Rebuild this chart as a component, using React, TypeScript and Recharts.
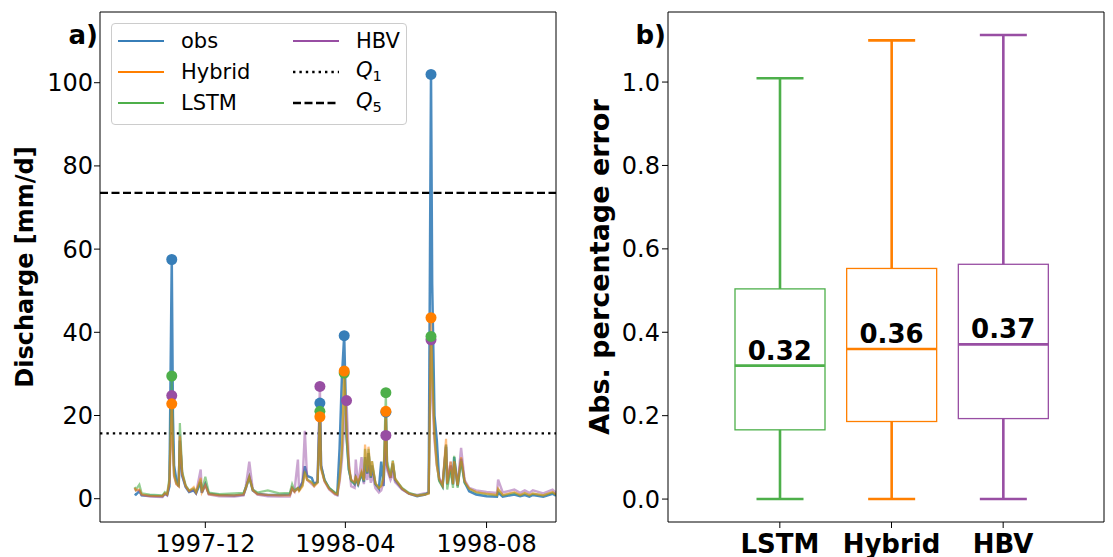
import {
  ComposedChart,
  Line,
  Bar,
  Scatter,
  XAxis,
  YAxis,
  ReferenceLine,
  Legend,
} from 'recharts'

// ---- panel a) discharge time series (values read off the figure) ----
const DATES = [
  '1997-10-01', '1997-10-02', '1997-10-05', '1997-10-07', '1997-10-14', '1997-10-25',
  '1997-10-27', '1997-10-29', '1997-10-31', '1997-11-02', '1997-11-03', '1997-11-04',
  '1997-11-06', '1997-11-08', '1997-11-09', '1997-11-11', '1997-11-14', '1997-11-17',
  '1997-11-21', '1997-11-23', '1997-11-27', '1997-11-28', '1997-12-01', '1997-12-04',
  '1997-12-13', '1997-12-26', '1998-01-03', '1998-01-05', '1998-01-08', '1998-01-11',
  '1998-01-15', '1998-01-24', '1998-02-03', '1998-02-12', '1998-02-14', '1998-02-16',
  '1998-02-19', '1998-02-20', '1998-02-23', '1998-02-25', '1998-02-27', '1998-03-03',
  '1998-03-05', '1998-03-08', '1998-03-10', '1998-03-11', '1998-03-14', '1998-03-18',
  '1998-03-23', '1998-03-25', '1998-03-27', '1998-03-29', '1998-03-31', '1998-04-02',
  '1998-04-04', '1998-04-06', '1998-04-09', '1998-04-10', '1998-04-12', '1998-04-15',
  '1998-04-17', '1998-04-18', '1998-04-20', '1998-04-21', '1998-04-23', '1998-04-24',
  '1998-04-27', '1998-04-30', '1998-05-02', '1998-05-04', '1998-05-06', '1998-05-07',
  '1998-05-10', '1998-05-12', '1998-05-14', '1998-05-20', '1998-05-26', '1998-06-02',
  '1998-06-09', '1998-06-12', '1998-06-14', '1998-06-15', '1998-06-17', '1998-06-19',
  '1998-06-21', '1998-06-24', '1998-06-27', '1998-06-28', '1998-07-01', '1998-07-03',
  '1998-07-04', '1998-07-07', '1998-07-10', '1998-07-13', '1998-07-17', '1998-07-23',
  '1998-08-01', '1998-08-10', '1998-08-11', '1998-08-15', '1998-08-25', '1998-08-30',
  '1998-09-03', '1998-09-07', '1998-09-10', '1998-09-19', '1998-09-27', '1998-09-30',
]

const OBS = [
  1.2, 1.0, 1.8, 0.8, 0.7, 0.6, 1.2, 0.9, 3.0, 57.5, 20, 8,
  4.5, 3.0, 14, 5.5, 2.8, 1.6, 2.0, 1.3, 4.0, 1.4, 3.5, 1.2,
  0.9, 0.8, 1.0, 2.5, 5.3, 2.0, 1.2, 0.9, 0.9, 1.0, 2.5, 1.8,
  2.5, 2.2, 4.0, 7.8, 5.5, 5.0, 3.5, 4.0, 23, 8, 4.5, 2.5,
  1.3, 1.0, 12, 29, 39.2, 15, 7, 4.5, 3.5, 5.0, 3.5, 6.0,
  4.0, 10, 6.0, 11, 5.0, 8, 3.5, 2.4, 8.9, 3.0, 20.8, 8,
  5, 8.5, 4.5, 2.4, 1.2, 0.6, 1.0, 1.5, 102, 51.7, 20, 14,
  4.6, 3.0, 12.5, 3.4, 8, 3.4, 10, 3.0, 9.6, 4.0, 1.8, 1.0,
  0.6, 0.5, 1.5, 0.5, 1.0, 0.6, 0.9, 0.5, 0.9, 0.5, 1.2, 0.7,
]

const HYBRID = [
  2.6, 2.0, 2.2, 1.0, 0.7, 0.6, 1.3, 1.0, 4.0, 22.8, 12, 5.5,
  3.5, 3.0, 15, 6, 3.0, 1.8, 2.8, 1.5, 5.0, 1.5, 3.2, 1.1,
  0.8, 0.8, 1.0, 2.5, 5.3, 2.0, 1.1, 0.9, 0.8, 0.8, 2.5, 1.6,
  2.5, 1.8, 3.0, 6.0, 4.5, 3.8, 3.0, 3.8, 19.7, 7, 4.2, 2.3,
  1.2, 1.0, 4.5, 12, 30.7, 17, 8, 4.6, 4.0, 5.5, 3.8, 6.5,
  4.5, 13, 6.5, 12.5, 5.5, 9, 3.8, 2.5, 3.0, 5.0, 21, 8,
  5, 9, 4.8, 2.4, 1.2, 0.7, 1.0, 1.2, 43.5, 30, 15, 8,
  4.8, 3.2, 14.4, 3.6, 8.9, 3.5, 9, 3.2, 10, 4.2, 2.4, 1.6,
  1.2, 0.9, 2.4, 0.9, 1.6, 0.9, 1.4, 0.9, 1.3, 0.8, 1.6, 1.0,
]

const LSTM = [
  2.8, 2.2, 3.4, 1.3, 1.0, 0.8, 1.6, 1.1, 5.0, 29.5, 14, 6,
  3.8, 3.2, 18.2, 6.5, 3.2, 2.0, 2.5, 1.6, 4.5, 1.8, 5.3, 1.5,
  1.1, 1.3, 1.4, 2.8, 5.0, 2.2, 1.5, 2.0, 1.3, 1.4, 3.5, 2.0,
  2.6, 2.0, 3.2, 6.5, 4.6, 4.0, 3.2, 4.0, 21, 7.5, 4.5, 2.6,
  1.5, 1.2, 5, 11, 30.2, 15, 7, 4.2, 3.6, 5.0, 3.5, 6.2,
  4.2, 12, 6.2, 12, 5.2, 9, 3.6, 2.6, 3.2, 5.5, 25.5, 9,
  5.5, 9.2, 4.8, 2.6, 1.4, 0.8, 1.1, 1.3, 39, 32, 16, 8.5,
  4.2, 2.8, 13, 2.2, 7, 2.6, 10.3, 2.6, 9, 3.8, 2.4, 1.5,
  1.1, 0.8, 2.2, 0.8, 1.4, 0.8, 1.3, 0.8, 1.2, 0.8, 1.5, 1.0,
]

const HBV = [
  2.6, 2.0, 2.0, 0.9, 0.5, 0.4, 1.2, 0.8, 4.0, 24.8, 12, 5.5,
  3.5, 3.0, 15.5, 6, 3.0, 1.8, 2.2, 1.4, 7.0, 1.6, 3.5, 1.0,
  0.6, 0.5, 0.8, 3.0, 8.9, 2.2, 1.0, 0.6, 0.5, 0.5, 2.6, 1.8,
  9.4, 2.0, 4.0, 16.3, 4.5, 3.5, 3.0, 4.5, 27, 8, 4.2, 2.2,
  1.0, 0.8, 4.0, 9, 18, 23.6, 9, 3.0, 2.6, 9.4, 3.0, 10.0,
  3.5, 7, 4.5, 8, 3.8, 6, 2.5, 1.5, 2.0, 4.0, 15.2, 7,
  4.5, 6, 4.0, 2.2, 1.2, 0.9, 1.3, 1.5, 38.2, 25, 14, 8,
  5.0, 3.4, 13, 3.8, 8.9, 3.6, 9, 3.4, 12.2, 4.5, 2.6, 2.0,
  1.6, 1.4, 4.6, 1.5, 2.2, 1.4, 2.0, 1.4, 2.0, 1.3, 2.2, 1.4,
]

// event peaks marked with a dot
const OBS_PEAKS = ['1997-11-02', '1998-03-10', '1998-03-31', '1998-05-06', '1998-06-14']
const HYBRID_PEAKS = ['1997-11-02', '1998-03-10', '1998-03-31', '1998-05-06', '1998-06-14']
const LSTM_PEAKS = ['1997-11-02', '1998-03-10', '1998-03-31', '1998-05-06', '1998-06-14']
const HBV_PEAKS = ['1997-11-02', '1998-03-10', '1998-04-02', '1998-05-06', '1998-06-14']

const Q1_LEVEL = 15.7
const Q5_LEVEL = 73.5
const TIME_START = '1997-09-01'
const TIME_END = '1998-09-30'
const TIME_TICKS = ['1997-12', '1998-04', '1998-08']
const DISCHARGE_DOMAIN = [-5.6, 117]
const DISCHARGE_TICKS = [0, 20, 40, 60, 80, 100]

// ---- panel b) absolute percentage error box plots ----
const MODELS = ['LSTM', 'Hybrid', 'HBV']
const WHISKER_LOW = [0, 0, 0]
const BOX_Q1 = [0.166, 0.186, 0.193]
const BOX_MEDIAN = [0.32, 0.36, 0.371]
const BOX_Q3 = [0.504, 0.553, 0.563]
const WHISKER_HIGH = [1.009, 1.1, 1.113]
const ERROR_DOMAIN = [-0.055, 1.168]
const ERROR_TICKS = [0, 0.2, 0.4, 0.6, 0.8, 1.0]

const COLORS: Record<string, string> = {
  obs: '#377eb8',
  Hybrid: '#ff7f00',
  LSTM: '#4daf4a',
  HBV: '#984ea3',
}

const FONT = 'DejaVu Sans'
const day = (s: string) => Date.parse(s)

const seriesData = DATES.map((date, i) => ({
  date,
  t: day(date),
  obs: OBS[i],
  hybrid: HYBRID[i],
  lstm: LSTM[i],
  hbv: HBV[i],
}))

const boxData = MODELS.map((name, i) => ({
  name,
  whisker: [WHISKER_LOW[i], WHISKER_HIGH[i]],
  box: [BOX_Q1[i], BOX_Q3[i]],
  median: BOX_MEDIAN[i],
}))

const tickStyle = { fontSize: 24, fill: '#000', fontFamily: FONT }
const black = { stroke: '#000', strokeWidth: 1 }

const peakDot = (color: string, peaks: string[]) => (props: any) => {
  const { cx, cy, payload, index } = props
  if (!peaks.includes(payload.date)) return <g key={`n-${index}`} />
  return <circle key={`p-${index}`} cx={cx} cy={cy} r={5.5} fill={color} />
}

const subStyle = { fontSize: '0.7em', verticalAlign: '-0.3em' }

const LEGEND_ITEMS = [
  { label: <span>obs</span>, color: COLORS.obs },
  { label: <span>Hybrid</span>, color: COLORS.Hybrid },
  { label: <span>LSTM</span>, color: COLORS.LSTM },
  { label: <span>HBV</span>, color: COLORS.HBV },
  { label: <span><i>Q</i><sub style={subStyle}>1</sub></span>, color: '#000', dash: '2.4 4' },
  { label: <span><i>Q</i><sub style={subStyle}>5</sub></span>, color: '#000', dash: '8 3.5' },
]

const LegendBox = () => (
  <div
    style={{
      position: 'relative',
      width: 296,
      height: 102,
      boxSizing: 'border-box',
      border: '1px solid #cccccc',
      borderRadius: 4,
      background: 'rgba(255,255,255,0.8)',
      fontFamily: FONT,
      fontSize: 21,
      color: '#000',
    }}
  >
    {LEGEND_ITEMS.map((item, i) => (
      <div
        key={i}
        style={{
          position: 'absolute',
          left: 6 + Math.floor(i / 3) * 175,
          top: 2 + (i % 3) * 31,
          height: 30,
          display: 'flex',
          alignItems: 'center',
          lineHeight: 1,
        }}
      >
        <svg width={46} height={6} style={{ marginRight: 17 }}>
          <line
            x1={0}
            y1={3}
            x2={46}
            y2={3}
            stroke={item.color}
            strokeWidth={item.dash ? 2.3 : 2.2}
            strokeDasharray={item.dash}
          />
        </svg>
        {item.label}
      </div>
    ))}
  </div>
)

const Whisker = (props: any) => {
  const { x, y, width, height, payload } = props
  const cx = x + width / 2
  const color = COLORS[payload.name]
  return (
    <g stroke={color} strokeWidth={2.6}>
      <line x1={cx} y1={y} x2={cx} y2={y + height} />
      <line x1={cx - 23.5} y1={y} x2={cx + 23.5} y2={y} />
      <line x1={cx - 23.5} y1={y + height} x2={cx + 23.5} y2={y + height} />
    </g>
  )
}

const Box = (props: any) => {
  const { x, y, width, height, payload } = props
  return (
    <rect
      x={x}
      y={y}
      width={width}
      height={height}
      fill="#fff"
      stroke={COLORS[payload.name]}
      strokeWidth={1.3}
    />
  )
}

const Median = (props: any) => {
  const { cx, cy, payload } = props
  return (
    <g>
      <line x1={cx - 45} y1={cy} x2={cx + 45} y2={cy} stroke={COLORS[payload.name]} strokeWidth={2.6} />
      <text
        x={cx}
        y={cy - 6}
        textAnchor="middle"
        fontFamily={FONT}
        fontWeight="bold"
        fontSize={26}
        fill="#000"
      >
        {payload.median.toFixed(2)}
      </text>
    </g>
  )
}

const panelTag = (right: number): React.CSSProperties => ({
  position: 'absolute',
  left: right - 60,
  width: 60,
  top: 22,
  textAlign: 'right',
  fontFamily: FONT,
  fontWeight: 'bold',
  fontSize: 26,
  lineHeight: 1,
  color: '#000',
})

export default function App() {
  const xDomain = [day(TIME_START), day(TIME_END)]
  return (
    <div
      style={{
        position: 'absolute',
        left: 0,
        top: 0,
        width: 1113,
        height: 557,
        background: '#fff',
        overflow: 'hidden',
      }}
    >
      <div style={{ position: 'absolute', left: 0, top: 0 }}>
        <ComposedChart
          width={570}
          height={557}
          data={seriesData}
          margin={{ top: 11, right: 13, bottom: 0, left: 0 }}
        >
          <XAxis
            dataKey="t"
            type="number"
            domain={xDomain}
            allowDataOverflow
            ticks={TIME_TICKS.map((m) => day(m + '-01'))}
            tickFormatter={(v: number) => new Date(v).toISOString().slice(0, 7)}
            tick={tickStyle}
            tickSize={6}
            tickMargin={7}
            height={35}
            axisLine={black}
            tickLine={black}
            interval={0}
          />
          <XAxis
            xAxisId="top"
            orientation="top"
            dataKey="t"
            type="number"
            domain={xDomain}
            allowDataOverflow
            tick={false}
            tickLine={false}
            height={1}
            axisLine={black}
          />
          <YAxis
            type="number"
            domain={DISCHARGE_DOMAIN}
            allowDataOverflow
            ticks={DISCHARGE_TICKS}
            tick={tickStyle}
            tickSize={6}
            tickMargin={1}
            width={100}
            axisLine={black}
            tickLine={black}
            interval={0}
            label={{
              value: 'Discharge [mm/d]',
              angle: -90,
              position: 'insideLeft',
              offset: 24,
              style: { textAnchor: 'middle', fontSize: 24, fontWeight: 'bold', fontFamily: FONT, fill: '#000' },
            }}
          />
          <YAxis
            yAxisId="right"
            orientation="right"
            type="number"
            domain={DISCHARGE_DOMAIN}
            allowDataOverflow
            tick={false}
            tickLine={false}
            width={1}
            axisLine={black}
          />
          <ReferenceLine y={Q1_LEVEL} stroke="#000" strokeWidth={2.3} strokeDasharray="2.4 4" />
          <ReferenceLine y={Q5_LEVEL} stroke="#000" strokeWidth={2.2} strokeDasharray="8 3.5" />
          <Line
            xAxisId="top"
            yAxisId="right"
            dataKey="obs"
            stroke={COLORS.obs}
            strokeOpacity={0.9}
            strokeWidth={2.5}
            dot={peakDot(COLORS.obs, OBS_PEAKS)}
            activeDot={false}
            isAnimationActive={false}
          />
          <Line
            dataKey="hbv"
            stroke={COLORS.HBV}
            strokeOpacity={0.5}
            strokeWidth={2.4}
            dot={peakDot(COLORS.HBV, HBV_PEAKS)}
            activeDot={false}
            isAnimationActive={false}
          />
          <Line
            dataKey="lstm"
            stroke={COLORS.LSTM}
            strokeOpacity={0.6}
            strokeWidth={2.2}
            dot={peakDot(COLORS.LSTM, LSTM_PEAKS)}
            activeDot={false}
            isAnimationActive={false}
          />
          <Line
            dataKey="hybrid"
            stroke={COLORS.Hybrid}
            strokeOpacity={0.5}
            strokeWidth={2.2}
            dot={peakDot(COLORS.Hybrid, HYBRID_PEAKS)}
            activeDot={false}
            isAnimationActive={false}
          />
          <Legend
            layout="horizontal"
            verticalAlign="middle"
            align="center"
            content={() => <LegendBox />}
            wrapperStyle={{ left: 111, top: 23, width: 296, height: 102 }}
          />
        </ComposedChart>
      </div>

      <div style={{ position: 'absolute', left: 570, top: 0 }}>
        <ComposedChart
          width={543}
          height={557}
          data={boxData}
          margin={{ top: 11, right: 8, bottom: 0, left: 0 }}
        >
          <XAxis
            dataKey="name"
            type="category"
            padding={{ left: 56, right: 45 }}
            tick={{ ...tickStyle, fontSize: 26, fontWeight: 'bold' }}
            tickSize={6}
            tickMargin={7}
            height={35}
            axisLine={black}
            tickLine={black}
            interval={0}
          />
          <XAxis
            xAxisId="top"
            orientation="top"
            dataKey="name"
            type="category"
            padding={{ left: 56, right: 45 }}
            tick={false}
            tickLine={false}
            height={1}
            axisLine={black}
          />
          <YAxis
            type="number"
            domain={ERROR_DOMAIN}
            allowDataOverflow
            ticks={ERROR_TICKS}
            tickFormatter={(v: number) => v.toFixed(1)}
            tick={tickStyle}
            tickSize={6}
            width={98}
            axisLine={black}
            tickLine={black}
            interval={0}
            label={{
              value: 'Abs. percentage error',
              angle: -90,
              position: 'insideLeft',
              offset: 29,
              style: { textAnchor: 'middle', fontSize: 27, fontWeight: 'bold', fontFamily: FONT, fill: '#000' },
            }}
          />
          <YAxis
            yAxisId="right"
            orientation="right"
            type="number"
            domain={ERROR_DOMAIN}
            allowDataOverflow
            tick={false}
            tickLine={false}
            width={1}
            axisLine={black}
          />
          <Bar dataKey="whisker" barSize={90} shape={<Whisker />} isAnimationActive={false} />
          <Bar xAxisId="top" dataKey="box" barSize={90} shape={<Box />} isAnimationActive={false} />
          <Scatter yAxisId="right" dataKey="median" shape={<Median />} isAnimationActive={false} />
        </ComposedChart>
      </div>

      <div style={panelTag(98)}>a)</div>
      <div style={panelTag(666)}>b)</div>
    </div>
  )
}
